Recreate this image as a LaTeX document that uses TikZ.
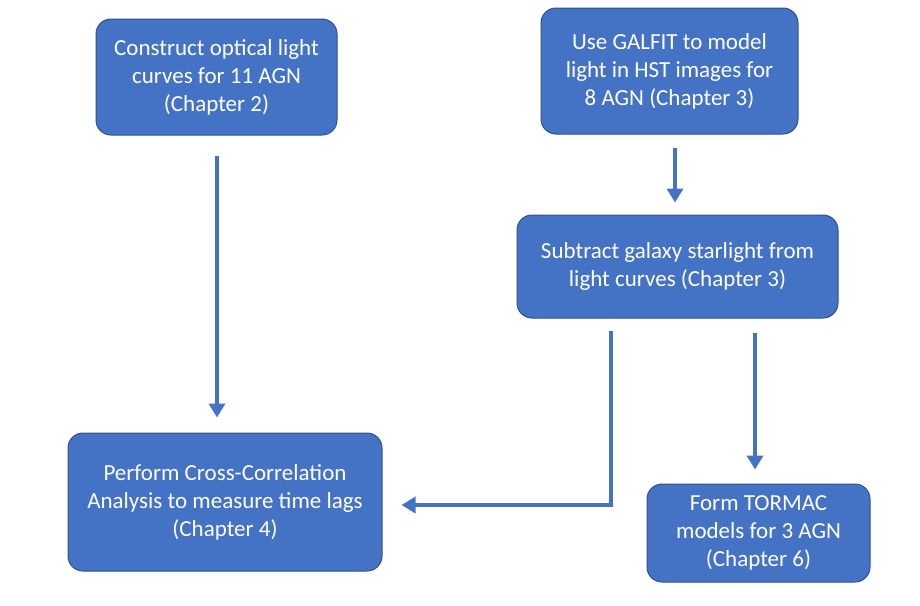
\documentclass[tikz,border=0pt]{standalone}
\usepackage{fontspec}
\setmainfont{Carlito}
\usetikzlibrary{arrows.meta,calc}
\definecolor{boxfill}{HTML}{4472C4}
\definecolor{boxline}{HTML}{2F528F}
\tikzset{
  stepbox/.style={draw=boxline, line width=1pt, fill=boxfill, rounded corners=15pt,
    text=white, align=center, inner sep=0pt,
    font=\fontsize{23}{28}\selectfont},
  arr/.style={draw=boxfill, line width=4pt, line join=miter, -{Triangle[width=16pt,length=14pt]}}
}
\begin{document}
\begin{tikzpicture}[x=1pt,y=1pt]
\useasboundingbox[fill=white] (0,0) rectangle (920,-605);
\node[stepbox, minimum width=241pt, minimum height=116pt] (A) at (216.5,-77) {Construct optical light\\curves for 11 AGN\\(Chapter 2)};
\node[stepbox, minimum width=257pt, minimum height=126pt] (B) at (669.5,-71) {Use GALFIT to model\\light in HST images for\\8 AGN (Chapter 3)};
\node[stepbox, minimum width=321pt, minimum height=103pt] (C) at (677.5,-266.5) {Subtract galaxy starlight from\\light curves (Chapter 3)};
\node[stepbox, minimum width=314pt, minimum height=138pt] (D) at (225,-502) {Perform Cross-Correlation\\Analysis to measure time lags\\(Chapter 4)};
\node[stepbox, minimum width=223pt, minimum height=98pt] (E) at (758.5,-533) {Form TORMAC\\models for 3 AGN\\(Chapter 6)};
\draw[arr] ($(A.south)+(0.5,-20)$) -- ($(D.north)+(-8,15)$);
\draw[arr] ($(B.south)+(5.5,-13)$) -- ($(C.north)+(-2.5,12)$);
\draw[arr] ($(C.south)+(77.5,-14)$) -- ($(E.north)+(-3.5,14)$);
\coordinate (c1) at ($(C.south)+(-66.5,-12)$);
\coordinate (c3) at ($(D.east)+(19,-3)$);
\draw[arr] (c1) -- (c1 |- c3) -- (c3);
\end{tikzpicture}
\end{document}
